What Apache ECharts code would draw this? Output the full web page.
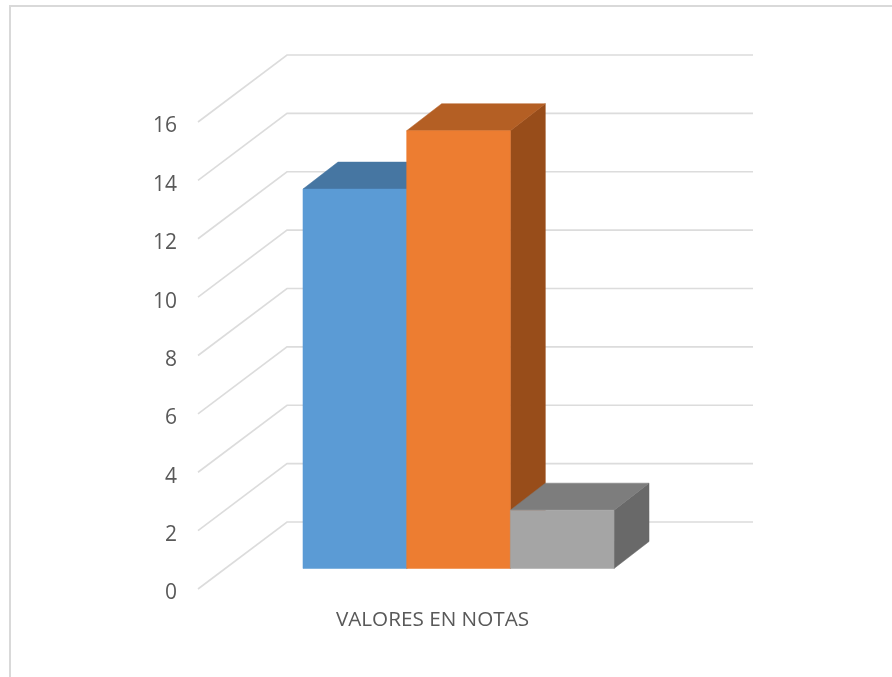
<!DOCTYPE html>
<html><head><meta charset="utf-8">
<style>html,body{margin:0;padding:0;background:#fff}#c{width:892px;height:677px}</style>
<script src="https://cdn.jsdelivr.net/npm/echarts@6/dist/echarts.min.js"></script>
</head><body><div id="c"></div>
<script>
const categories = ['VALORES EN NOTAS'];
const seriesA = [13];
const seriesB = [15];
const seriesC = [2];
const ticks = [0, 2, 4, 6, 8, 10, 12, 14, 16];

const FONT = '"Open Sans", sans-serif';
const WALL = [89, -67];      // front plane to back wall
const BAR_START = [27.5, -20.5]; // front plane to bar's front face
const BAR_DEPTH = [35, -27];
const BAR_W = 0.2225;        // share of the band

function poly(pts, fill) {
  return { type: 'polygon', shape: { points: pts }, style: { fill: fill, stroke: fill, lineWidth: 0.5 } };
}
function barRender(slot, front, top, side) {
  return function (params, api) {
    const v = api.value(1);
    const c = api.coord([0, v]);
    const b = api.coord([0, 0]);
    const w = api.size([1, 0])[0] * BAR_W;
    const x0 = c[0] + BAR_START[0] + (slot - 1.5) * w;
    const x1 = x0 + w;
    const yT = c[1] + BAR_START[1];
    const yB = b[1] + BAR_START[1];
    const dx = BAR_DEPTH[0], dy = BAR_DEPTH[1];
    return { type: 'group', children: [
      poly([[x1, yT], [x1 + dx, yT + dy], [x1 + dx, yB + dy], [x1, yB]], side),
      poly([[x0, yT], [x0 + dx, yT + dy], [x1 + dx, yT + dy], [x1, yT]], top),
      poly([[x0, yT], [x1, yT], [x1, yB], [x0, yB]], front)
    ] };
  };
}
function wallRender(params, api) {
  const v = api.value(0);
  const a = api.coord([0, v]);
  const size = api.size([1, 0])[0];
  const xL = a[0] - size / 2;
  const xR = xL + size + WALL[0];
  const p = [xL + WALL[0], a[1] + WALL[1]];
  return { type: 'polyline',
    shape: { points: [[xL, a[1]], p, [xR, p[1]]] },
    style: { fill: null, stroke: '#DCDCDC', lineWidth: 1.6 } };
}
function barSeries(name, data, slot, front, top, side) {
  return { name, type: 'custom', coordinateSystem: 'cartesian2d', z: 2 + slot,
    renderItem: barRender(slot, front, top, side),
    encode: { x: 0, y: 1 },
    data: data.map((v, i) => [i, v]) };
}

const chart = echarts.init(document.getElementById('c'), null, { renderer: 'canvas' });
chart.setOption({
  animation: false,
  backgroundColor: '#fff',
  graphic: [{ type: 'polyline', silent: true, z: 0,
    shape: { points: [[10, 677], [10, 6], [892, 6]] },
    style: { fill: null, stroke: '#D9D9D9', lineWidth: 2 } }],
  grid: { left: 198, right: 892 - 664, top: 122, bottom: 677 - 589 },
  xAxis: { type: 'category', data: categories,
    axisLine: { show: false }, axisTick: { show: false }, splitLine: { show: false },
    axisLabel: { color: '#595959', fontFamily: FONT, fontSize: 20.7, margin: 21, padding: [0, 0, 0, 3] } },
  yAxis: { type: 'value', min: 0, max: 16, interval: 2,
    axisLine: { show: false }, axisTick: { show: false }, splitLine: { show: false },
    axisLabel: { color: '#595959', fontFamily: FONT, fontSize: 21, margin: 21, lineHeight: 21, verticalAlign: 'top', padding: [-6, 0, 0, 0] } },
  series: [
    { type: 'custom', coordinateSystem: 'cartesian2d', z: 1, renderItem: wallRender,
      encode: { y: 0 }, data: ticks.map(t => [t]), silent: true },
    barSeries('A', seriesA, 0, '#5B9BD5', '#4676A2', '#3F6E99'),
    barSeries('B', seriesB, 1, '#ED7D31', '#B45F24', '#984D1A'),
    barSeries('C', seriesC, 2, '#A5A5A5', '#7D7D7D', '#696969')
  ]
});
</script></body></html>
